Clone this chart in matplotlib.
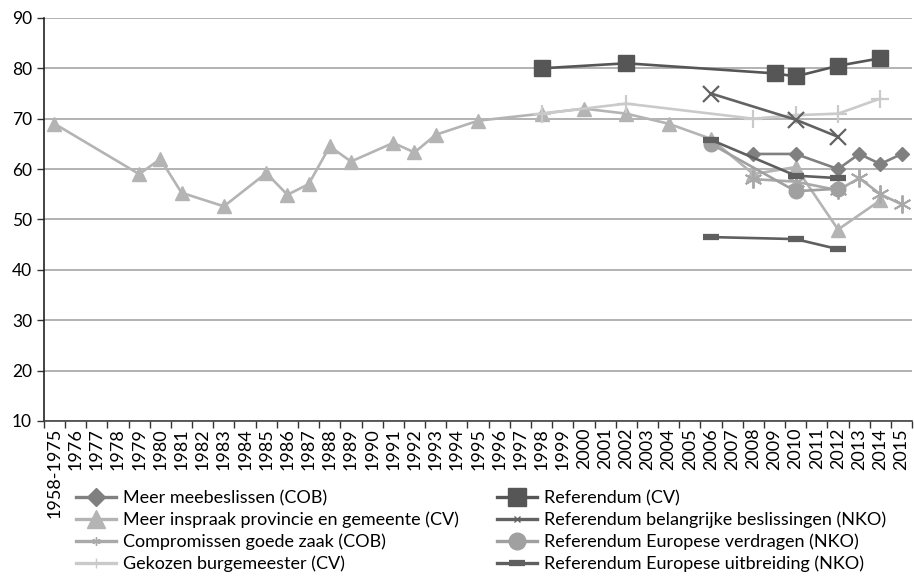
import matplotlib
matplotlib.use("Agg")
import matplotlib.pyplot as plt
from matplotlib.lines import Line2D
import numpy as np

plt.rcParams['font.family'] = ['Lato', 'DejaVu Sans']

categories = ['1958-1975'] + [str(y) for y in range(1976, 2016)]

meebeslissen_years = ['2008', '2010', '2012', '2013', '2014', '2015']
meebeslissen_vals = [63, 63, 60, 63, 61, 63]

inspraak_years = ['1958-1975', '1979', '1980', '1981', '1983', '1985', '1986', '1987',
                  '1988', '1989', '1991', '1992', '1993', '1995', '1998', '2000',
                  '2002', '2004', '2006', '2008', '2010', '2012', '2014']
inspraak_vals = [69, 59, 62, 55.3, 52.6, 59.2, 54.9, 57, 64.5, 61.5, 65.2, 63.3, 66.8,
                 69.6, 71, 72, 71, 69, 66, 59, 60.4, 48, 53.8]

compromissen_years = ['2008', '2010', '2012', '2013', '2014', '2015']
compromissen_vals = [58, 57.5, 55.8, 58.2, 55, 53]

burgemeester_years = ['1998', '2002', '2008', '2010', '2012', '2014']
burgemeester_vals = [71, 73, 70, 70.7, 71, 74]

referendum_cv_years = ['1998', '2002', '2009', '2010', '2012', '2014']
referendum_cv_vals = [80, 81, 79, 78.4, 80.5, 82]

belangrijk_years = ['2006', '2010', '2012']
belangrijk_vals = [75, 69.8, 66.4]

verdragen_years = ['2006', '2010', '2012']
verdragen_vals = [65, 55.6, 56.1]

uitbreiding_years = ['2006', '2010', '2012']
uitbreiding_vals_a = [65.8, 58.7, 58.2]
uitbreiding_vals_b = [46.5, 46.1, 44.1]

labels = ['Meer meebeslissen (COB)',
          'Meer inspraak provincie en gemeente (CV)',
          'Compromissen goede zaak (COB)',
          'Gekozen burgemeester (CV)',
          'Referendum (CV)',
          'Referendum belangrijke beslissingen (NKO)',
          'Referendum Europese verdragen (NKO)',
          'Referendum Europese uitbreiding (NKO)']

fig = plt.figure(figsize=(9.14, 5.79), dpi=100)
ax = fig.add_axes([0.048, 0.273, 0.950, 0.696])

def xs(years):
    return [categories.index(y) for y in years]

lw = 1.9
c_insp, c_burg, c_comp, c_verd = '#b4b4b4', '#cacaca', '#a9a9a9', '#a0a0a0'
c_meeb, c_uitb, c_bel, c_ref = '#808080', '#5f5f5f', '#626262', '#565656'
ast = (6, 2, 0)

ax.plot(xs(inspraak_years), inspraak_vals, color=c_insp, lw=lw,
        marker='^', ms=10, zorder=3)
ax.plot(xs(burgemeester_years), burgemeester_vals, color=c_burg, lw=lw,
        marker='+', ms=13, mew=1.6, zorder=3)
ax.plot(xs(compromissen_years), compromissen_vals, color=c_comp, lw=lw,
        marker=ast, ms=13, mew=1.4, zorder=4)
ax.plot(xs(verdragen_years), verdragen_vals, color=c_verd, lw=lw,
        marker='o', ms=10.5, zorder=4)
ax.plot(xs(meebeslissen_years), meebeslissen_vals, color=c_meeb, lw=lw,
        marker='D', ms=7.5, zorder=5)
ax.plot(xs(uitbreiding_years), uitbreiding_vals_a, color=c_uitb, lw=lw,
        marker='_', ms=11, mew=4.5, zorder=5)
ax.plot(xs(uitbreiding_years), uitbreiding_vals_b, color=c_uitb, lw=lw,
        marker='_', ms=11, mew=4.5, zorder=5)
ax.plot(xs(belangrijk_years), belangrijk_vals, color=c_bel, lw=lw,
        marker='x', ms=12, mew=1.6, zorder=5)
ax.plot(xs(referendum_cv_years), referendum_cv_vals, color=c_ref, lw=lw,
        marker='s', ms=11, zorder=6)

ax.set_xlim(-0.5, len(categories) - 0.5)
ax.set_ylim(10, 90)
ax.set_yticks(np.arange(10, 91, 10))
ax.yaxis.grid(True, color='#a6a6a6', lw=1.2)
ax.set_axisbelow(True)

ax.set_xticks(np.arange(len(categories)))
ax.set_xticklabels(categories, rotation=90, fontsize=13)
ax.set_xticks(np.arange(-0.5, len(categories), 1), minor=True)
ax.tick_params(axis='x', which='major', length=0, pad=5)
ax.tick_params(axis='x', which='minor', length=5, width=1, color='#333333')
ax.tick_params(axis='y', length=5, width=1, labelsize=12.5, color='#333333')

for s in ['top', 'right']:
    ax.spines[s].set_visible(False)
ax.spines['left'].set_color('#222222')
ax.spines['bottom'].set_color('#444444')
ax.spines['left'].set_linewidth(1.2)
ax.spines['bottom'].set_linewidth(1.2)

llw = 2.4
leg_handles = [
    Line2D([], [], color=c_meeb, lw=llw, marker='D', ms=9),
    Line2D([], [], color=c_insp, lw=llw, marker='^', ms=13),
    Line2D([], [], color=c_comp, lw=llw, marker=ast, ms=6, mew=1.0),
    Line2D([], [], color=c_burg, lw=llw, marker='|', ms=7, mew=1.0),
    Line2D([], [], color=c_ref, lw=llw, marker='s', ms=13),
    Line2D([], [], color=c_bel, lw=llw, marker='x', ms=5, mew=1.0),
    Line2D([], [], color=c_verd, lw=llw, marker='o', ms=12),
    Line2D([], [], color=c_uitb, lw=llw, marker='_', ms=11, mew=4.5),
]
fig.legend(leg_handles, labels, ncol=2, loc='upper left',
           bbox_to_anchor=(0.083, 0.154), frameon=False,
           prop={'size': 13.0},
           handlelength=2.2, handletextpad=0.42, columnspacing=2.1,
           labelspacing=0.3, borderaxespad=0, borderpad=0)

fig.savefig('out.png', dpi=100)
